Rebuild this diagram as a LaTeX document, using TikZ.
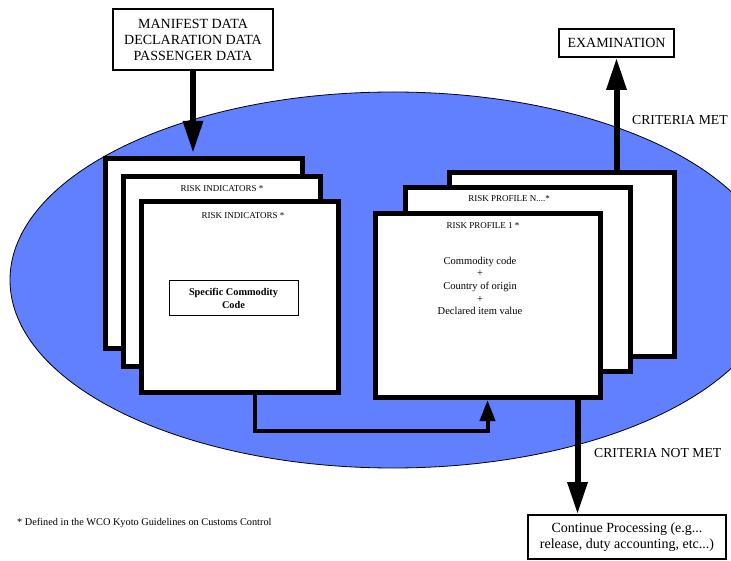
\documentclass[tikz,border=0pt]{standalone}
\usepackage{fontspec}
\setmainfont{Liberation Serif}
\usetikzlibrary{arrows.meta, positioning, calc}
\usepackage{xcolor}
\definecolor{riskblue}{RGB}{96,128,255}

\begin{document}
\begin{tikzpicture}[x=1pt, y=-1pt,
        plate/.style={draw, line width=5pt, fill=white, minimum width=197pt, minimum height=190pt, inner sep=0pt},
        profplate/.style={plate, minimum width=225pt, minimum height=184pt},
        databox/.style={draw, line width=1.6pt, fill=white, align=center, inner sep=0pt, font=\fontsize{14}{16}\selectfont},
        tag/.style={inner sep=0pt, font=\fontsize{9}{11}\selectfont},
        bigtxt/.style={inner sep=0pt, anchor=west, font=\fontsize{13.7}{16}\selectfont},
        fatarrow/.style={line width=6pt, -{Triangle[width=19pt,length=32pt]}},
        linkarrow/.style={line width=4pt, -{Triangle[width=15pt,length=21pt]}}]
            \useasboundingbox (0,0) rectangle (731,561);
            % Targeting area
            \draw[fill=riskblue, line width=0.8pt] (393,280) ellipse [x radius=383pt, y radius=188pt];

            % Risk indicators stack
            \node[plate] (ind3) at (204,253.5) {};
            \node[plate] (ind2) at (221.5,271.5) {};
            \node[plate] (ind1) at (239.5,297) {};
            \node[tag] (ind2lab) at (222,189) {RISK INDICATORS *};
            \node[tag] (ind1lab) at (243,216) {RISK INDICATORS *};
            \node[draw, line width=1pt, minimum width=129pt, minimum height=35pt, align=center,
                  font=\bfseries\fontsize{10.3}{13}\selectfont] (scc) at (233.5,298.5) {Specific Commodity\\Code};

            % Risk profile stack
            \node[profplate] (prof3) at (561.5,264.5) {};
            \node[profplate] (prof2) at (518,279.5) {};
            \node[profplate] (prof1) at (487.5,305.5) {};
            \node[tag] (prof2lab) at (509,199) {RISK PROFILE N....*};
            \node[tag] (prof1lab) at (483,226) {RISK PROFILE 1 *};
            \node[align=center, inner sep=0pt, font=\fontsize{10.5}{12.7}\selectfont] (crit) at (480,286)
                {Commodity code\\+\\Country of origin\\+\\Declared item value};

            % Outside boxes
            \node[databox, minimum width=160pt, minimum height=61pt] (manifest) at (193,39.5)
                {MANIFEST DATA\\DECLARATION DATA\\PASSENGER DATA};
            \node[databox, minimum width=115pt, minimum height=28pt] (exam) at (616.5,43) {EXAMINATION};
            \node[databox, minimum width=198pt, minimum height=44pt] (cont) at (627,537)
                {Continue Processing (e.g...\\release, duty accounting, etc...)};

            % Flow
            \draw[fatarrow, shorten >=3pt] (manifest.south) -- (manifest.south |- ind3.north);
            \draw[fatarrow] (prof3.north -| exam.south) -- (exam.south);
            \draw[fatarrow] ([xshift=-25pt]prof1.south east) -- ([xshift=-25pt]prof1.south east |- cont.north);
            \draw[linkarrow] ([xshift=15pt]ind1.south) -- ++(0,36) -| (prof1.south);

            \node[bigtxt] (met) at (632,120) {CRITERIA MET};
            \node[bigtxt] (notmet) at (594,453) {CRITERIA NOT MET};
            \node[inner sep=0pt, anchor=west, font=\fontsize{10.3}{12}\selectfont] (note) at (17,523)
                {* Defined in the WCO Kyoto Guidelines on Customs Control};
        \end{tikzpicture}
\end{document}
